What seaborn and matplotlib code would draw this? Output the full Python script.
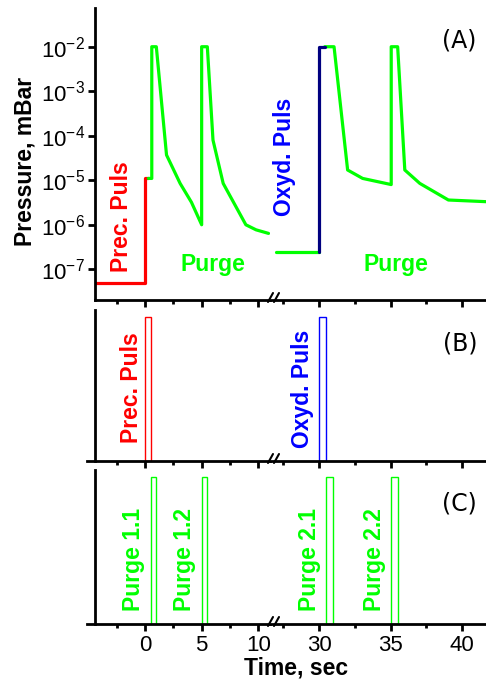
import math
import matplotlib
matplotlib.use('Agg')
import matplotlib.pyplot as plt
import seaborn as sns
from matplotlib.ticker import FixedLocator, FuncFormatter, NullFormatter
from matplotlib.lines import Line2D

# ---- data ----
# panel A, left part (0..10 s)
prec_t = [-4.4, 0.0, 0.0, 0.3]
prec_p = [5e-8, 5e-8, 1.1e-5, 1.1e-5]
purge1_t = [0.3, 0.6, 0.6, 1.0, 1.9, 3.1, 4.1, 5.0, 5.0, 5.5, 6.0, 6.9, 8.9, 9.8, 10.9]
purge1_p = [1.1e-5, 1.1e-5, 1e-2, 1e-2, 3.7e-5, 8.5e-6, 3.2e-6, 1e-6, 1e-2, 1e-2,
            8e-5, 8.5e-6, 1e-6, 7.7e-7, 6.4e-7]
# panel A, right part (30..40 s)
base2_t = [27.0, 30.0]
base2_p = [2.5e-7, 2.5e-7]
oxyd_t = [30.0, 30.0, 30.4]
oxyd_p = [2.5e-7, 1e-2, 1e-2]
purge2_t = [30.4, 31.05, 32.0, 33.05, 35.05, 35.05, 35.5, 36.0, 37.05, 39.05, 41.7]
purge2_p = [1e-2, 1e-2, 1.7e-5, 1.1e-5, 8e-6, 1e-2, 1e-2, 1.7e-5, 8.5e-6, 3.6e-6, 3.3e-6]

# panels B and C: pulse windows (start, width)
pulse_B_left = [(0.0, 0.5, 'red')]
pulse_B_right = [(30.0, 0.5, 'blue')]
pulse_C_left = [(0.5, 0.5), (5.0, 0.5)]
pulse_C_right = [(30.5, 0.5), (35.0, 0.5)]

major_left = [0, 5, 10]
minor_left = [-2.5, 2.5, 7.5]
major_right = [30, 35, 40]
minor_right = [27.5, 32.5, 37.5]
ydecades = [1e-7, 1e-6, 1e-5, 1e-4, 1e-3, 1e-2]

RED, GREEN, BLUE, NAVY = '#ff0000', '#00ff00', '#0000ff', '#000080'

sns.set_style("ticks")
plt.rcParams['font.family'] = ['Liberation Sans', 'DejaVu Sans']
plt.rcParams['mathtext.fontset'] = 'custom'
plt.rcParams['mathtext.rm'] = 'Liberation Sans'
for k in ['axes.edgecolor', 'xtick.color', 'ytick.color', 'text.color', 'axes.labelcolor']:
    plt.rcParams[k] = 'black'

W, H = 486, 684
fig = plt.figure(figsize=(W / 100, H / 100), dpi=100)


def box(x0, x1, top, bot):
    return [x0 / W, 1 - bot / H, (x1 - x0) / W, (bot - top) / H]


rows = [(8, 300), (310, 461), (470, 624)]
xlim_left = (-4.41, 11.03)
xlim_right = (26.57, 41.68)

axes = []
for i, (top, bot) in enumerate(rows):
    axL = fig.add_axes(box(95, 270, top, bot))
    axR = fig.add_axes(box(270, 486, top, bot))
    for ax, lim, maj, mnr in [(axL, xlim_left, major_left, minor_left),
                              (axR, xlim_right, major_right, minor_right)]:
        ax.set_xlim(*lim)
        ax.xaxis.set_major_locator(FixedLocator(maj))
        ax.xaxis.set_minor_locator(FixedLocator(mnr))
        ax.xaxis.set_minor_formatter(NullFormatter())
        ax.tick_params(axis='x', which='major', direction='out', length=5, width=2,
                       labelsize=16, pad=3, labelbottom=(i == 2))
        ax.tick_params(axis='x', which='minor', direction='out', length=3, width=2)
        for s in ['top', 'right']:
            ax.spines[s].set_visible(False)
        for s in ['left', 'bottom']:
            ax.spines[s].set_linewidth(2)
    axR.spines['left'].set_visible(False)
    axR.tick_params(axis='y', which='both', left=False, labelleft=False)
    if i > 0:
        axL.tick_params(axis='y', which='both', left=False, labelleft=False)
        axL.spines['bottom'].set_bounds(-5.1, xlim_left[1])
    axes.append((axL, axR))

# ---- panel A ----
aL, aR = axes[0]
for ax in (aL, aR):
    ax.set_yscale('log')
    ax.set_ylim(10 ** -7.69, 10 ** -1.13)
aL.yaxis.set_major_locator(FixedLocator(ydecades))
aL.yaxis.set_minor_locator(FixedLocator([]))
aL.yaxis.set_major_formatter(FuncFormatter(lambda v, p: r'$\mathrm{10^{%d}}$' % round(math.log10(v))))
aL.tick_params(axis='y', which='major', direction='out', length=5, width=2, labelsize=16, pad=2)

lw = 2.3
sns.lineplot(x=prec_t, y=prec_p, sort=False, estimator=None, color=RED, lw=lw, ax=aL)
sns.lineplot(x=purge1_t, y=purge1_p, sort=False, estimator=None, color=GREEN, lw=lw, ax=aL)
sns.lineplot(x=base2_t, y=base2_p, sort=False, estimator=None, color=GREEN, lw=lw, ax=aR)
sns.lineplot(x=purge2_t, y=purge2_p, sort=False, estimator=None, color=GREEN, lw=lw, ax=aR)
sns.lineplot(x=oxyd_t, y=oxyd_p, sort=False, estimator=None, color=NAVY, lw=lw, ax=aR)

lab = dict(fontsize=16.5, fontweight='bold', ha='center', va='center')
tag = dict(fontsize=17, family='DejaVu Sans', ha='center', va='center')
aL.text(-2.05, 1.55e-6, 'Prec. Puls', color=RED, rotation=90, **lab)
aL.text(6.0, 1.3e-7, 'Purge', color=GREEN, **lab)
aR.text(27.55, 3.3e-5, 'Oxyd. Puls', color=BLUE, rotation=90, **lab)
aR.text(35.37, 1.3e-7, 'Purge', color=GREEN, **lab)
aR.text(39.8, 1.35e-2, '(A)', **tag)

# ---- panel B ----
bL, bR = axes[1]
for ax in (bL, bR):
    ax.set_ylim(0, 1.05)
    ax.set_yticks([])
for x0, w, c in pulse_B_left:
    bL.bar(x0, 1, width=w, align='edge', fill=False, edgecolor=c, linewidth=1)
for x0, w, c in pulse_B_right:
    bR.bar(x0, 1, width=w, align='edge', fill=False, edgecolor=c, linewidth=1)
bL.text(-1.23, 0.51, 'Prec. Puls', color=RED, rotation=90, **lab)
bR.text(28.85, 0.50, 'Oxyd. Puls', color=BLUE, rotation=90, **lab)
bR.text(39.85, 0.816, '(B)', **tag)

# ---- panel C ----
cL, cR = axes[2]
for ax in (cL, cR):
    ax.set_ylim(0, 1.05)
    ax.set_yticks([])
for x0, w in pulse_C_left:
    cL.bar(x0, 1, width=w, align='edge', fill=False, edgecolor=GREEN, linewidth=1)
for x0, w in pulse_C_right:
    cR.bar(x0, 1, width=w, align='edge', fill=False, edgecolor=GREEN, linewidth=1)
cL.text(-0.97, 0.44, 'Purge 1.1', color=GREEN, rotation=90, **lab)
cL.text(3.5, 0.44, 'Purge 1.2', color=GREEN, rotation=90, **lab)
cR.text(29.3, 0.44, 'Purge 2.1', color=GREEN, rotation=90, **lab)
cR.text(33.85, 0.44, 'Purge 2.2', color=GREEN, rotation=90, **lab)
cR.text(39.85, 0.82, '(C)', **tag)

# axis break marks
for top, bot in rows:
    for x in (268, 274):
        fig.add_artist(Line2D([x / W, (x + 5) / W], [1 - (bot + 2) / H, 1 - (bot - 7) / H],
                              color='black', lw=1.5, transform=fig.transFigure))

fig.text(25 / W, 1 - 161 / H, 'Pressure, mBar', rotation=90, ha='center', va='center',
         fontsize=16.5, fontweight='bold')
fig.text(296.5 / W, 1 - 668 / H, 'Time, sec', ha='center', va='center',
         fontsize=16.5, fontweight='bold')

fig.savefig('out.png', dpi=100)
